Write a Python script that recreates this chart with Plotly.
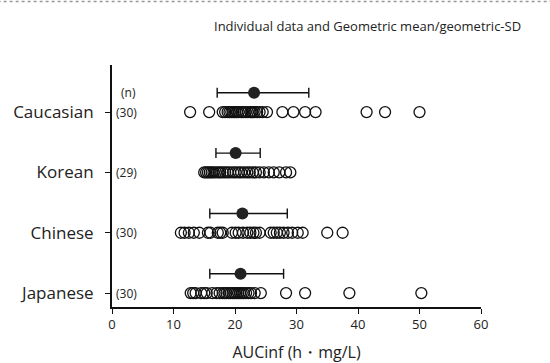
import plotly.graph_objects as go

groups = ["Japanese", "Chinese", "Korean", "Caucasian"]
counts = ["(30)", "(30)", "(29)", "(30)"]

japanese = [12.8, 13.2, 13.6, 14.5, 15.0, 15.4, 16.3, 17.0, 17.5, 18.0,
            18.3, 18.6, 19.0, 19.3, 19.6, 19.9, 20.2, 20.5, 20.8, 21.1,
            21.4, 21.8, 22.2, 22.6, 23.2, 24.2, 28.3, 31.4, 38.6, 50.3]
chinese = [11.2, 11.8, 12.5, 13.3, 14.2, 15.6, 16.0, 17.2, 17.6, 18.0,
           19.5, 20.1, 20.6, 21.3, 22.0, 22.5, 23.0, 23.4, 24.0, 25.8,
           26.3, 26.8, 27.3, 27.9, 28.6, 29.3, 30.2, 31.0, 35.0, 37.5]
korean = [15.0, 15.3, 15.6, 15.9, 16.2, 16.5, 16.9, 17.3, 17.6, 18.0,
          18.4, 18.8, 19.2, 19.7, 20.1, 20.6, 21.0, 21.5, 22.0, 22.4,
          22.9, 23.4, 24.0, 24.7, 25.5, 26.3, 27.2, 28.3, 29.0]
caucasian = [12.7, 15.8, 18.0, 18.4, 18.8, 19.1, 19.4, 19.7, 20.0, 20.3,
             20.6, 21.0, 21.3, 21.7, 22.1, 22.5, 22.7, 22.9, 23.2, 23.6,
             24.0, 24.5, 25.2, 27.7, 29.5, 31.4, 33.1, 41.4, 44.4, 50.0]

gmean = [20.9, 21.2, 20.1, 23.1]
sd_low = [15.9, 15.9, 16.9, 17.1]
sd_high = [27.9, 28.5, 24.1, 32.0]

individual = [japanese, chinese, korean, caucasian]
offset = 0.32

fig = go.Figure()
for i, vals in enumerate(individual):
    fig.add_trace(go.Scatter(
        x=vals, y=[i] * len(vals), mode="markers",
        marker=dict(symbol="circle-open", size=11, color="#111",
                    line=dict(width=1.3, color="#111")),
        showlegend=False, hoverinfo="x"))

fig.add_trace(go.Scatter(
    x=gmean, y=[i + offset for i in range(len(gmean))], mode="markers",
    marker=dict(symbol="circle", size=12, color="#222"),
    error_x=dict(type="data", symmetric=False,
                 array=[h - m for h, m in zip(sd_high, gmean)],
                 arrayminus=[m - l for m, l in zip(gmean, sd_low)],
                 color="#111", thickness=1.4, width=5),
    showlegend=False))

annotations = []
for i, c in enumerate(counts):
    annotations.append(dict(x=0, y=i, xref="x", yref="y", text=c,
                            showarrow=False, xanchor="left", xshift=2,
                            font=dict(size=12, color="#222")))
annotations.append(dict(x=0, y=3 + offset, xref="x", yref="y", text="(n)",
                        showarrow=False, xanchor="left", xshift=7,
                        font=dict(size=12, color="#222")))
annotations.append(dict(x=1.0, y=1.0, xref="paper", yref="paper",
                        text="Individual data and Geometric mean/geometric-SD",
                        showarrow=False, xanchor="right", yanchor="middle",
                        xshift=42, yshift=39,
                        font=dict(size=13, color="#222")))

fig.update_layout(
    width=550, height=363,
    margin=dict(l=112, r=69, t=65, b=56),
    paper_bgcolor="white", plot_bgcolor="white",
    font=dict(family="Open Sans", color="#222"),
    annotations=annotations,
    shapes=[dict(type="line", xref="paper", yref="paper",
                 x0=-0.31, x1=1.19, y0=1.262, y1=1.262,
                 line=dict(color="#999", width=1.5, dash="dot"))],
    xaxis=dict(range=[0, 60], tickvals=[0, 10, 20, 30, 40, 50, 60],
               automargin=False,
               showgrid=False, zeroline=False, showline=True,
               linecolor="#111", linewidth=1.5, ticks="outside",
               ticklen=5, tickwidth=1.3, tickcolor="#111",
               tickfont=dict(size=13),
               title=dict(text="AUCinf (h\u30fbmg/L)", font=dict(size=16),
                          standoff=14)),
    yaxis=dict(range=[-0.23, 3.78], tickvals=[0, 1, 2, 3], ticktext=groups,
               showgrid=False, zeroline=False, showline=True,
               linecolor="#111", linewidth=2, ticks="outside",
               ticklen=5, tickwidth=1.3, tickcolor="#111",
               ticklabelstandoff=8,
               tickfont=dict(size=17)),
)

fig.write_html("out.html")
